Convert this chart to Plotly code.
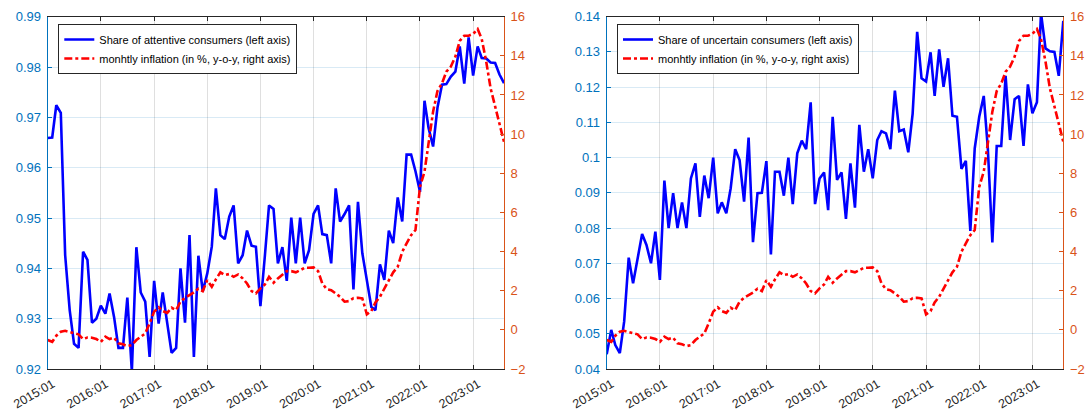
import pandas as pd
import plotly.graph_objects as go

# Monthly observations, 2015:01 - 2023:08
months = pd.date_range("2015-01-01", "2023-08-01", freq="MS")

attentive_share = [
    0.9659, 0.9660, 0.9724, 0.9709, 0.9426, 0.9317, 0.9250, 0.9242, 0.9433, 0.9417, 0.9292, 0.9300,
    0.9326, 0.9310, 0.9350, 0.9303, 0.9242, 0.9242, 0.9342, 0.9195, 0.9442, 0.9352, 0.9334, 0.9224,
    0.9375, 0.9290, 0.9352, 0.9293, 0.9232, 0.9242, 0.9400, 0.9292, 0.9466, 0.9224, 0.9425, 0.9354,
    0.9390, 0.9443, 0.9559, 0.9466, 0.9458, 0.9503, 0.9525, 0.9410, 0.9426, 0.9475, 0.9445, 0.9443,
    0.9325, 0.9426, 0.9525, 0.9518, 0.9410, 0.9442, 0.9375, 0.9501, 0.9410, 0.9501, 0.9410, 0.9436,
    0.9508, 0.9525, 0.9468, 0.9466, 0.9410, 0.9559, 0.9493, 0.9508, 0.9525, 0.9358, 0.9532, 0.9430,
    0.9377, 0.9323, 0.9317, 0.9408, 0.9377, 0.9475, 0.9450, 0.9541, 0.9493, 0.9626, 0.9626, 0.9593,
    0.9552, 0.9733, 0.9679, 0.9642, 0.9719, 0.9765, 0.9766, 0.9781, 0.9791, 0.9841, 0.9767, 0.9859,
    0.9783, 0.9841, 0.9818, 0.9817, 0.9809, 0.9808, 0.9785, 0.9768,
]

uncertain_share = [
    0.0442, 0.0511, 0.0468, 0.0445, 0.0535, 0.0716, 0.0643, 0.0716, 0.0783, 0.0752, 0.0700, 0.0790,
    0.0653, 0.0935, 0.0800, 0.0899, 0.0800, 0.0873, 0.0800, 0.0941, 0.0984, 0.0832, 0.0949, 0.0885,
    0.1000, 0.0842, 0.0873, 0.0842, 0.0913, 0.1024, 0.0993, 0.0875, 0.1057, 0.0760, 0.0899, 0.0900,
    0.0990, 0.0725, 0.0960, 0.0960, 0.0892, 0.1000, 0.0868, 0.1012, 0.1048, 0.1024, 0.1157, 0.0868,
    0.0941, 0.0958, 0.0851, 0.1116, 0.0937, 0.0958, 0.0826, 0.0984, 0.0858, 0.1093, 0.0960, 0.1024,
    0.0941, 0.1050, 0.1075, 0.1069, 0.1024, 0.1190, 0.1075, 0.1080, 0.1015, 0.1125, 0.1357, 0.1225,
    0.1216, 0.1299, 0.1175, 0.1307, 0.1201, 0.1282, 0.1119, 0.1116, 0.0968, 0.0991, 0.0792, 0.1026,
    0.1116, 0.1175, 0.1026, 0.0759, 0.1033, 0.1033, 0.1232, 0.1050, 0.1166, 0.1175, 0.1033, 0.1208,
    0.1126, 0.1157, 0.1410, 0.1310, 0.1302, 0.1300, 0.1232, 0.1388,
]

inflation_yoy = [
    -0.52, -0.61, -0.30, -0.10, -0.05, -0.10, -0.18, -0.23, -0.47, -0.39, -0.40, -0.47,
    -0.61, -0.35, -0.47, -0.40, -0.69, -0.74, -0.83, -0.78, -0.52, -0.35, -0.18, 0.33,
    0.93, 1.15, 0.96, 0.87, 1.13, 1.01, 1.44, 1.64, 1.78, 1.91, 2.10, 1.98,
    2.54, 2.20, 2.58, 2.94, 2.80, 2.85, 2.71, 2.83, 2.63, 2.37, 1.98, 1.86,
    2.12, 2.32, 2.71, 2.41, 2.63, 2.83, 3.00, 3.00, 2.94, 3.05, 3.17, 3.17,
    3.19, 3.00, 2.37, 2.08, 2.03, 1.86, 1.69, 1.44, 1.47, 1.62, 1.64, 1.61,
    0.79, 0.96, 1.40, 1.69, 2.08, 2.54, 2.94, 3.22, 3.99, 4.42, 4.84, 5.10,
    7.31, 8.08, 9.53, 11.15, 12.20, 12.59, 13.19, 13.45, 13.96, 14.76, 15.03, 15.03,
    15.12, 15.37, 14.86, 13.70, 12.34, 11.40, 10.64, 9.61,
]

share_labels = [
    "Share of attentive consumers (left axis)",
    "Share of uncertain consumers (left axis)",
]
inflation_label = "monhtly inflation (in %, y-o-y, right axis)"

FONT = "Liberation Sans, Arial, Helvetica, sans-serif"
LEFT_COLOR = "#0072BD"
RIGHT_COLOR = "#D95319"
AXIS_DARK = "#262626"

fig = go.Figure()

panels = [
    dict(share=attentive_share, label=share_labels[0], x="x", yl="y", yr="y2", legend="legend"),
    dict(share=uncertain_share, label=share_labels[1], x="x2", yl="y3", yr="y4", legend="legend2"),
]

for p in panels:
    fig.add_trace(go.Scatter(
        x=months, y=p["share"], name=p["label"], mode="lines",
        line=dict(color="#0000FF", width=2.6),
        xaxis=p["x"], yaxis=p["yl"], legend=p["legend"],
    ))
    fig.add_trace(go.Scatter(
        x=months, y=inflation_yoy, name=inflation_label, mode="lines",
        line=dict(color="#FF0000", width=2.6, dash="8px,3px,3px,3px"),
        xaxis=p["x"], yaxis=p["yr"], legend=p["legend"],
    ))

W, H = 1085, 410
left_dom = [47.7 / W, 504.0 / W]
right_dom = [606.7 / W, 1063.3 / W]
y_dom = [1 - 369.0 / H, 1 - 16.7 / H]

x_common = dict(
    type="date",
    range=[months[0], months[-1]],
    tick0="2015-01-01", dtick="M12", tickformat="%Y:%m",
    tickangle=-30, automargin=False,
    showline=True, linecolor=AXIS_DARK, linewidth=1, mirror="ticks",
    ticks="inside", ticklen=4, tickcolor=AXIS_DARK,
    showgrid=True, gridcolor="rgba(38,38,38,0.15)", gridwidth=1,
    zeroline=False,
    tickfont=dict(family=FONT, size=12.5, color=AXIS_DARK),
    ticklabelstandoff=2, ticklabelshift=5,
)

yl_common = dict(
    side="left", automargin=False,
    showline=True, linecolor=LEFT_COLOR, linewidth=1,
    ticks="inside", ticklen=4, tickcolor=LEFT_COLOR,
    showgrid=True, gridcolor="rgba(0,114,189,0.15)", gridwidth=1,
    zeroline=False, domain=y_dom,
    tickfont=dict(family=FONT, size=13, color=LEFT_COLOR),
    ticklabelstandoff=3,
)

yr_common = dict(
    side="right", automargin=False,
    range=[-2, 16], dtick=2, tick0=0,
    showline=True, linecolor=RIGHT_COLOR, linewidth=1,
    ticks="inside", ticklen=4, tickcolor=RIGHT_COLOR,
    showgrid=False, zeroline=False,
    tickfont=dict(family=FONT, size=13, color=RIGHT_COLOR),
    ticklabelstandoff=3,
)

legend_common = dict(
    bgcolor="white", bordercolor=AXIS_DARK, borderwidth=1,
    font=dict(family=FONT, size=11, color="black"),
    xanchor="left", yanchor="top",
    tracegroupgap=0, itemwidth=30,
)

fig.update_layout(
    width=W, height=H,
    margin=dict(l=0, r=0, t=0, b=0, autoexpand=False),
    paper_bgcolor="white", plot_bgcolor="white",
    showlegend=True,
    xaxis=dict(domain=left_dom, anchor="y", **x_common),
    xaxis2=dict(domain=right_dom, anchor="y3", **x_common),
    yaxis=dict(anchor="x", range=[0.92, 0.99], dtick=0.01, tick0=0.92,
               tickformat=".2f", **yl_common),
    yaxis2=dict(anchor="x", overlaying="y", **yr_common),
    yaxis3=dict(anchor="x2", range=[0.04, 0.14], dtick=0.01, tick0=0.04,
                tickformat="~g", **yl_common),
    yaxis4=dict(anchor="x2", overlaying="y3", **yr_common),
    legend=dict(x=58.3 / W, y=1 - 24.0 / H, **legend_common),
    legend2=dict(x=617.0 / W, y=1 - 24.0 / H, **legend_common),
)

fig.write_html("out.html")
